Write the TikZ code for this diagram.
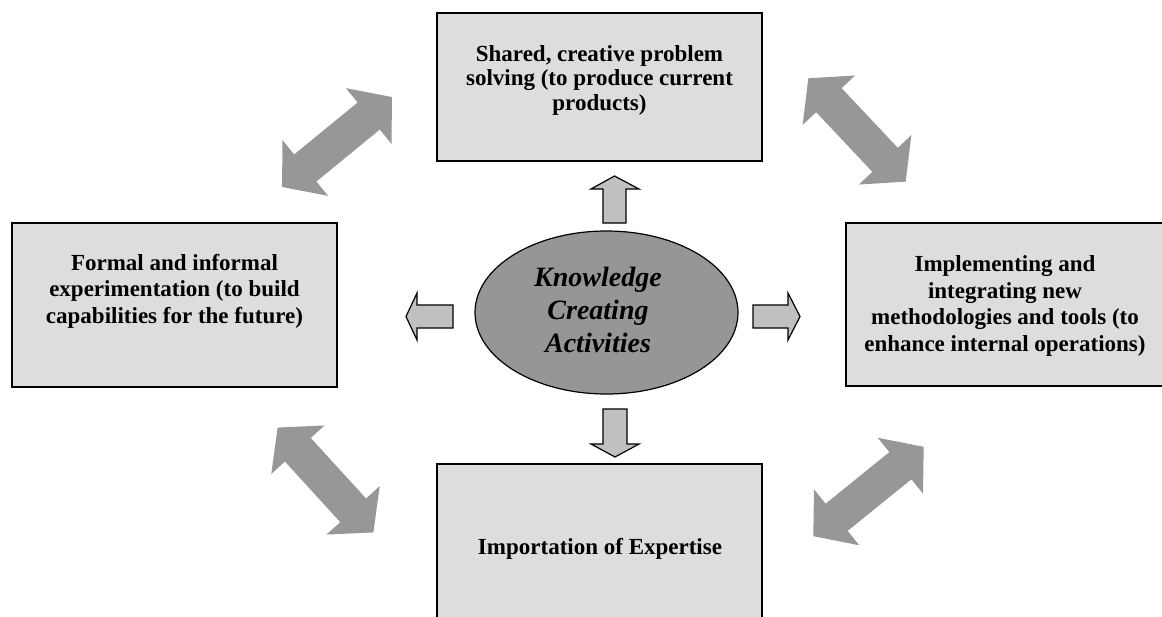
\documentclass[tikz,border=0pt]{standalone}
\usepackage{fontspec}
\setmainfont{Liberation Serif}
\usetikzlibrary{shapes.geometric}
\definecolor{boxgray}{HTML}{DDDDDD}
\definecolor{ellgray}{HTML}{969696}
\definecolor{smallgray}{HTML}{C0C0C0}
\definecolor{biggray}{HTML}{979797}
\begin{document}
\begin{tikzpicture}[x=1pt,y=-1pt,
  box/.style={draw=black, line width=2pt, fill=boxgray, rectangle, inner sep=0pt},
  lbl/.style={inner sep=0pt, align=center, font=\fontsize{23}{26.5}\selectfont\bfseries},
  toplbl/.style={inner sep=0pt, align=center, font=\fontsize{23}{24.3}\selectfont\bfseries},
  elltext/.style={inner sep=0pt, align=center, font=\fontsize{28}{33}\selectfont\bfseries\itshape},
  smallarrow/.style={draw=black, line width=1.2pt, fill=smallgray, line join=miter},
  dblarrow/.pic={\fill[biggray] (71,0) -- (41,36) -- (41,17.5) -- (-41,17.5) -- (-41,36) -- (-71,0)
      -- (-41,-36) -- (-41,-17.5) -- (41,-17.5) -- (41,-36) -- cycle;}
]
\useasboundingbox (0,0) rectangle (1162,616);

% boxes
\node[box, minimum width=325pt, minimum height=148pt] (topbox) at (599.5,87) {};
\node[box, minimum width=325pt, minimum height=164pt] (leftbox) at (174.5,305) {};
\node[box, minimum width=318pt, minimum height=163pt] (rightbox) at (1005,304.5) {};
\node[box, minimum width=325pt, minimum height=166pt] (bottombox) at (599.5,547) {};

\node[toplbl, anchor=north] (toptext) at (599.5,45.5) {Shared, creative problem\\solving (to produce current\\products)};
\node[lbl, anchor=north] (lefttext) at (174.5,254) {Formal and informal\\experimentation (to build\\capabilities for the future)};
\node[lbl, anchor=north] (righttext) at (1005,255.5) {Implementing and\\integrating new\\methodologies and tools (to\\enhance internal operations)};
\node[lbl, anchor=base] (bottomtext) at (600,554) {Importation of Expertise};

% central ellipse
\node[ellipse, draw=black, line width=1.2pt, fill=ellgray, minimum width=263pt, minimum height=163pt, inner sep=0pt] (kca) at (606.5,312.5) {};
\node[elltext, anchor=north] (kcatext) at (598,267) {Knowledge\\Creating\\Activities};

% small arrows
\draw[smallarrow] (614.5,176) -- (639,189) -- (626,189) -- (626,223) -- (603,223) -- (603,189) -- (591,189) -- cycle;
\draw[smallarrow] (603,409) -- (627,409) -- (627,444) -- (639,444) -- (615,457) -- (591,444) -- (603,444) -- cycle;
\draw[smallarrow] (406,316.5) -- (417,293) -- (417,305) -- (453,305) -- (453,328) -- (417,328) -- (417,340) -- cycle;
\draw[smallarrow] (753,305) -- (788,305) -- (788,293) -- (800,316.5) -- (788,340) -- (788,328) -- (753,328) -- cycle;

% big double arrows
\pic[rotate=39.3] at (337,142) {dblarrow};
\pic[rotate=-46.7] at (857,130) {dblarrow};
\pic[rotate=-47.6] at (325.5,480) {dblarrow};
\pic[rotate=39] at (868.5,491.5) {dblarrow};
\end{tikzpicture}
\end{document}
